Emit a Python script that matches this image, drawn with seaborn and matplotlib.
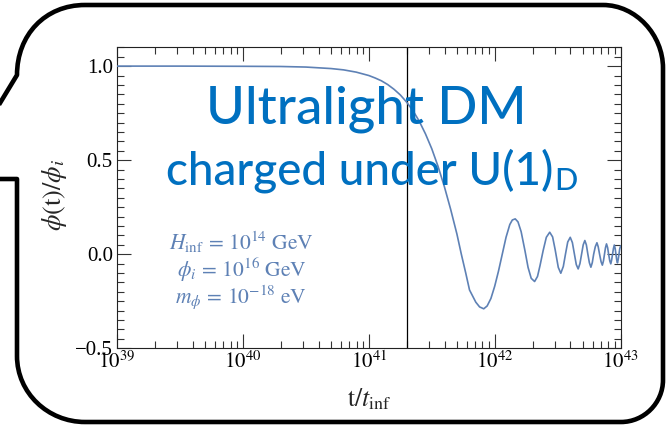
import numpy as np
import pandas as pd
import matplotlib
matplotlib.use("Agg")
import matplotlib.pyplot as plt
import seaborn as sns
from matplotlib.path import Path
from matplotlib.patches import PathPatch
from matplotlib.ticker import FixedLocator, LogLocator, MultipleLocator, FuncFormatter, NullFormatter

# ---------------- data ----------------
log10_t = [39.0, 39.5, 40.0, 40.3, 40.5, 40.7, 40.8, 40.9, 41.0, 41.05, 41.1, 41.15,
           41.2, 41.25, 41.3, 41.35, 41.4, 41.45, 41.5, 41.55, 41.6, 41.65, 41.7,
           41.735, 41.77, 41.8, 41.85, 41.88, 41.913, 41.94, 41.97, 42.0, 42.03,
           42.06, 42.09, 42.12, 42.14, 42.163, 42.185, 42.21, 42.24, 42.265, 42.29,
           42.317, 42.34, 42.36, 42.385, 42.41, 42.437, 42.46, 42.48, 42.505, 42.525,
           42.545, 42.562, 42.58, 42.6, 42.617, 42.632, 42.648, 42.663, 42.677, 42.69,
           42.703, 42.716, 42.728, 42.74, 42.752, 42.764, 42.775, 42.786, 42.799,
           42.812, 42.822, 42.833, 42.845, 42.855, 42.864, 42.872, 42.88, 42.888,
           42.897, 42.905, 42.914, 42.922, 42.929, 42.936, 42.943, 42.95, 42.957,
           42.963, 42.969, 42.975, 42.981, 42.987, 42.993, 43.0]
phi_ratio = [1.0, 1.0, 0.999, 0.998, 0.995, 0.987, 0.98, 0.968, 0.95, 0.937, 0.922, 0.902,
             0.877, 0.847, 0.809, 0.764, 0.708, 0.64, 0.561, 0.467, 0.36, 0.239, 0.107,
             0.0, -0.1, -0.19, -0.255, -0.28, -0.29, -0.275, -0.235, -0.17, -0.09,
             0.0, 0.09, 0.158, 0.182, 0.188, 0.172, 0.12, 0.02, -0.07, -0.128,
             -0.145, -0.118, -0.06, 0.02, 0.09, 0.117, 0.092, 0.025, -0.07, -0.101,
             -0.065, 0.0, 0.065, 0.09, 0.062, 0.005, -0.055, -0.078, -0.05, 0.0,
             0.05, 0.073, 0.05, 0.0, -0.045, -0.069, -0.045, 0.0, 0.04,
             0.061, 0.04, 0.0, -0.04, -0.058, -0.035, 0.0, 0.035, 0.055,
             0.035, 0.0, -0.035, -0.051, -0.03, 0.0, 0.03, 0.049, 0.03,
             0.0, -0.03, -0.046, -0.028, 0.0, 0.028, 0.044]
x_tick_exponents = [39, 40, 41, 42, 43]
y_ticks = [-0.5, 0.0, 0.5, 1.0]
t_marker = 2e41
title_text = "Ultralight DM"
subtitle_text = "charged under U(1)"
subtitle_sub = "D"
param_lines = [r"$H_{\mathrm{inf}}\,=\,10^{14}\ \mathrm{GeV}$",
               r"$\phi_i\,=\,10^{16}\ \mathrm{GeV}$",
               r"$m_\phi\,=\,10^{-18}\ \mathrm{eV}$"]
x_label = r"$\mathrm{t}/t_{\mathrm{inf}}$"
y_label = r"$\phi(\mathrm{t})/\phi_i$"

LINE_C = "#5E81B5"
TITLE_C = "#0070C0"

# ---------------- style ----------------
sns.set_theme(style="ticks")
plt.rcParams["font.family"] = ["Liberation Serif", "DejaVu Serif"]
plt.rcParams["mathtext.fontset"] = "stix"
plt.rcParams["axes.unicode_minus"] = True

W, H = 669, 428
fig = plt.figure(figsize=(W / 100, H / 100), dpi=100)
fig.patch.set_facecolor("white")

L, R, T, B = 117.0, 620.6, 47.3, 348.3
ax = fig.add_axes([L / W, 1 - B / H, (R - L) / W, (B - T) / H])
ax.set_facecolor("white")

df = pd.DataFrame({"t": 10.0 ** np.array(log10_t), "phi": phi_ratio})
sns.lineplot(data=df, x="t", y="phi", ax=ax, color=LINE_C, linewidth=1.2, zorder=3)
ax.axvline(t_marker, color="black", linewidth=0.9, zorder=2)

ax.set_xscale("log")
ax.set_xlim(10.0 ** x_tick_exponents[0], 10.0 ** x_tick_exponents[-1])
ax.set_ylim(-0.5, 1.1)

ax.xaxis.set_major_locator(FixedLocator(10.0 ** np.array(x_tick_exponents)))
ax.xaxis.set_minor_locator(LogLocator(base=10, subs=np.arange(2, 10), numticks=100))
ax.xaxis.set_major_formatter(FuncFormatter(lambda v, p: r"$10^{%d}$" % int(round(np.log10(v)))))
ax.xaxis.set_minor_formatter(NullFormatter())
ax.yaxis.set_major_locator(FixedLocator(y_ticks))
ax.yaxis.set_minor_locator(MultipleLocator(0.05))
ax.yaxis.set_major_formatter(FuncFormatter(lambda v, p: f"{v:.1f}".replace("-", "\u2212")))

ax.tick_params(which="both", direction="in", top=True, right=True, colors="#333333",
               labelcolor="black", width=0.8)
ax.tick_params(which="major", length=10, labelsize=15)
ax.tick_params(which="minor", length=5)
ax.tick_params(axis="x", which="major", pad=2)
ax.tick_params(axis="y", which="major", pad=3)
for s in ax.spines.values():
    s.set_color("#222222")
    s.set_linewidth(0.8)

ax.set_xlabel(x_label, fontsize=18.5)
ax.set_ylabel(y_label, fontsize=19)
ax.xaxis.set_label_coords(0.5, (B - 386) / (B - T))
ax.yaxis.set_label_coords((69 - L) / (R - L), (B - 195) / (B - T))

# ---------------- overlay: speech bubble and texts ----------------
ov = fig.add_axes([0, 0, 1, 1], zorder=10)
ov.set_xlim(0, W)
ov.set_ylim(H, 0)
ov.axis("off")
ov.patch.set_alpha(0)

verts = [(-3, 108), (17, 75),
         (17, 35), (45, 5), (85, 5),
         (603, 5),
         (636, 5), (663, 35), (663, 68),
         (663, 380),
         (663, 403), (644, 422), (621, 422),
         (85, 422),
         (48, 422), (17, 393), (17, 356),
         (17, 179), (-3, 179)]
codes = [Path.MOVETO, Path.LINETO,
         Path.CURVE4, Path.CURVE4, Path.CURVE4,
         Path.LINETO,
         Path.CURVE4, Path.CURVE4, Path.CURVE4,
         Path.LINETO,
         Path.CURVE4, Path.CURVE4, Path.CURVE4,
         Path.LINETO,
         Path.CURVE4, Path.CURVE4, Path.CURVE4,
         Path.LINETO, Path.LINETO]
ov.add_patch(PathPatch(Path(verts, codes), facecolor="none", edgecolor="black",
                       linewidth=3.3, joinstyle="round", capstyle="butt"))

ov.text(366, 123, title_text, fontsize=38, family="Lato", fontweight=500, color=TITLE_C,
        ha="center", va="baseline")
sub = ov.text(166, 184, subtitle_text, fontsize=33, family="Lato", fontweight=500,
              color=TITLE_C, ha="left", va="baseline")
fig.canvas.draw()
bb = sub.get_window_extent(renderer=fig.canvas.get_renderer())
x_end = ov.transData.inverted().transform((bb.x1, bb.y0))[0]
ov.text(x_end + 1, 190, subtitle_sub, fontsize=22, family="Lato", fontweight=500,
        color=TITLE_C, ha="left", va="baseline")

for line, yb in zip(param_lines, [249.5, 277, 303]):
    ov.text(241.5, yb, line, fontsize=15.5, color=LINE_C, ha="center", va="baseline")

fig.savefig("out.png", dpi=100)
